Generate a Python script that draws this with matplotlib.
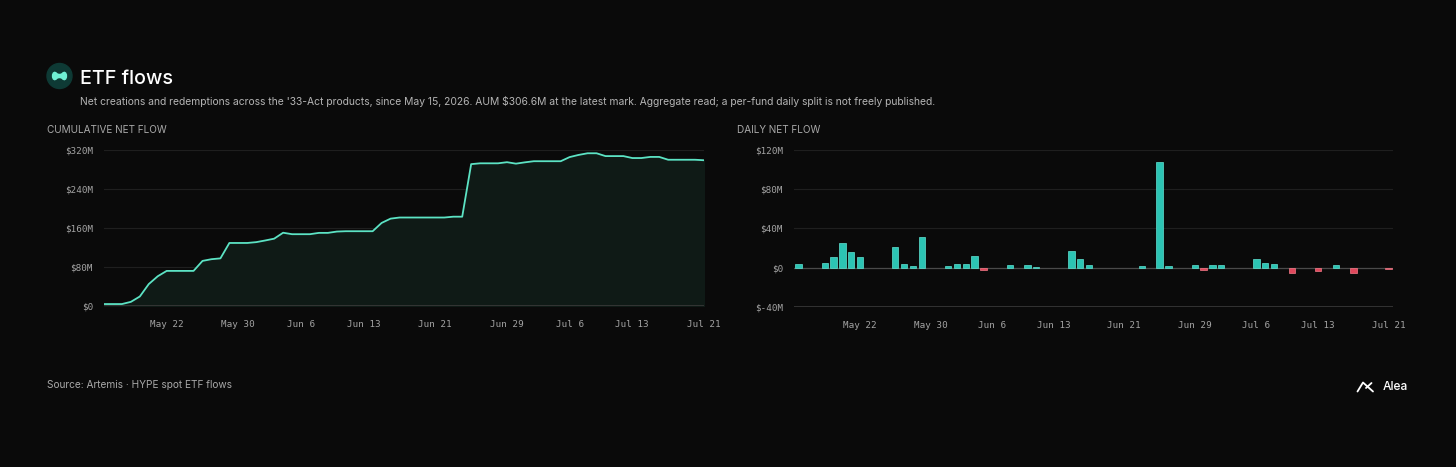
import matplotlib
matplotlib.use("Agg")
import matplotlib.pyplot as plt
from matplotlib.patches import Circle, PathPatch
from matplotlib.path import Path
import numpy as np
import pandas as pd

# ---- data (USD millions) ----
dates = pd.date_range("2026-05-15", "2026-07-21", freq="D")
daily_flow = [
    4.0, 0, 0, 4.5, 11.0, 25.5, 16.0, 11.0, 0, 0,
    0, 20.5, 3.5, 1.7, 31.6, 0, 0, 1.7, 3.4, 3.7,
    12.2, -3.0, 0, 0, 2.7, 0, 2.7, 0.7, 0, 0,
    0, 17.0, 8.8, 2.3, 0, 0, 0, 0, 0, 1.7,
    0, 107.8, 1.7, 0, 0, 2.3, -3.0, 2.7, 2.3, 0,
    0, 0, 8.5, 4.4, 3.4, 0, -5.8, 0, 0, -4.0,
    0, 2.3, 0, -5.8, 0, 0, 0, -1.0,
]
cumulative_flow = np.cumsum(daily_flow)

tick_dates = pd.to_datetime(["2026-05-22", "2026-05-30", "2026-06-06", "2026-06-13",
                             "2026-06-21", "2026-06-29", "2026-07-06", "2026-07-13",
                             "2026-07-21"])
tick_labels = ["May 22", "May 30", "Jun 6", "Jun 13", "Jun 21", "Jun 29", "Jul 6", "Jul 13", "Jul 21"]
cum_yticks = [0, 80, 160, 240, 320]
cum_ylabels = ["$0", "$80M", "$160M", "$240M", "$320M"]
daily_yticks = [-40, 0, 40, 80, 120]
daily_ylabels = ["$-40M", "$0", "$40M", "$80M", "$120M"]

title = "ETF flows"
subtitle = ("Net creations and redemptions across the '33-Act products, since May 15, 2026. "
            "AUM $306.6M at the latest mark. Aggregate read; a per-fund daily split is not freely published.")
source = "Source: Artemis \u00b7 HYPE spot ETF flows"

# ---- style ----
BG = "#0a0a0a"
GRID = "#1f1f1f"
TICK = "#a4a4a4"
LINE = "#5ce3c4"
FILL = "#0f1a16"
POS = "#2cc4b4"
POS_EDGE = "#5fe3d2"
NEG = "#e0485c"
NEG_EDGE = "#f47a88"
SANS = ["Inter", "DejaVu Sans"]
MONO = ["DejaVu Sans Mono"]

W, H = 1456, 467
fig = plt.figure(figsize=(W / 100, H / 100), dpi=100, facecolor=BG)


def axes_px(x0, y0, x1, y1):
    return fig.add_axes([x0 / W, 1 - y1 / H, (x1 - x0) / W, (y1 - y0) / H])


def style(ax):
    ax.set_facecolor(BG)
    for s in ax.spines.values():
        s.set_visible(False)
    ax.tick_params(length=0, colors=TICK, labelsize=6.7)
    for lab in ax.get_xticklabels() + ax.get_yticklabels():
        lab.set_family(MONO)
    ax.tick_params(axis="x", pad=10)
    ax.tick_params(axis="y", pad=8)


# cumulative
ax1 = axes_px(104, 150, 704, 306)
ax1.fill_between(dates, cumulative_flow, 0, color=FILL, zorder=1)
ax1.plot(dates, cumulative_flow, color=LINE, lw=1.3, zorder=3)
ax1.set_xlim(dates[0], dates[-1])
ax1.set_ylim(0, 320)
ax1.set_yticks(cum_yticks, cum_ylabels)
ax1.set_xticks(tick_dates, tick_labels)
for v in cum_yticks[1:]:
    ax1.axhline(v, color=GRID, lw=0.8, zorder=0)
ax1.axhline(0, color="#3a3a3a", lw=1.2, zorder=2)
style(ax1)

# daily
ax2 = axes_px(794, 150, 1393, 306.7)
colors = [POS if v >= 0 else NEG for v in daily_flow]
edges = [(POS_EDGE if v > 0 else NEG_EDGE) if v != 0 else "none" for v in daily_flow]
ax2.bar(dates, daily_flow, width=0.72, color=colors, edgecolor=edges, linewidth=0.5, zorder=3)
ax2.set_xlim(dates[0] - pd.Timedelta(hours=12), dates[-1] + pd.Timedelta(hours=12))
ax2.set_ylim(-40, 120)
ax2.set_yticks(daily_yticks, daily_ylabels)
ax2.set_xticks(tick_dates, tick_labels)
for v in daily_yticks[2:]:
    ax2.axhline(v, color=GRID, lw=0.8, zorder=0)
ax2.axhline(0, color="#4a4a4a", lw=0.9, zorder=2)
ax2.axhline(-40, color="#3a3a3a", lw=1.2, zorder=2)
style(ax2)

# overlay in pixel coords for header / footer
ov = fig.add_axes([0, 0, 1, 1], facecolor="none")
ov.set_xlim(0, W)
ov.set_ylim(H, 0)
ov.axis("off")

ov.add_patch(Circle((59.5, 76), 12.5, color="#0e3a35", zorder=2))
verts = np.array([
    (-0.9, 0), (-0.9, 0.5), (-0.55, 0.65), (-0.3, 0.38),
    (-0.15, 0.22), (0.15, 0.22), (0.3, 0.38),
    (0.55, 0.65), (0.9, 0.5), (0.9, 0),
    (0.9, -0.5), (0.55, -0.65), (0.3, -0.38),
    (0.15, -0.22), (-0.15, -0.22), (-0.3, -0.38),
    (-0.55, -0.65), (-0.9, -0.5), (-0.9, 0), (-0.9, 0)])
codes = [Path.MOVETO] + [Path.CURVE4] * 18 + [Path.CLOSEPOLY]
logo = Path(verts * [8.5, -8.5] + [59.5, 76], codes)
ov.add_patch(PathPatch(logo, facecolor="#6ff0d4", edgecolor="none", zorder=3))

ov.text(80, 84, title, color="white", fontsize=14.2, family=SANS, fontweight="medium", va="baseline")
ov.text(80, 101.5, subtitle, color="#b4b4b4", fontsize=7.45, family=SANS, va="center")
ov.text(47, 130, "CUMULATIVE NET FLOW", color="#a8a8a8", fontsize=7.2, family=SANS, va="center")
ov.text(737, 130, "DAILY NET FLOW", color="#a8a8a8", fontsize=7.2, family=SANS, va="center")
ov.text(47, 384.5, source, color="#a8a8a8", fontsize=7.3, family=SANS, va="center")

# Alea mark
ov.plot([1357.5, 1363, 1373], [391.5, 382.5, 391.5], color="white", lw=1.3, solid_capstyle="round")
ov.plot([1366, 1371.5], [388, 383], color="white", lw=1.3, solid_capstyle="round")
ov.text(1383, 387, "Alea", color="white", fontsize=8.6, family=SANS, fontweight="medium", va="center")

fig.savefig("out.png", dpi=100, facecolor=BG)
